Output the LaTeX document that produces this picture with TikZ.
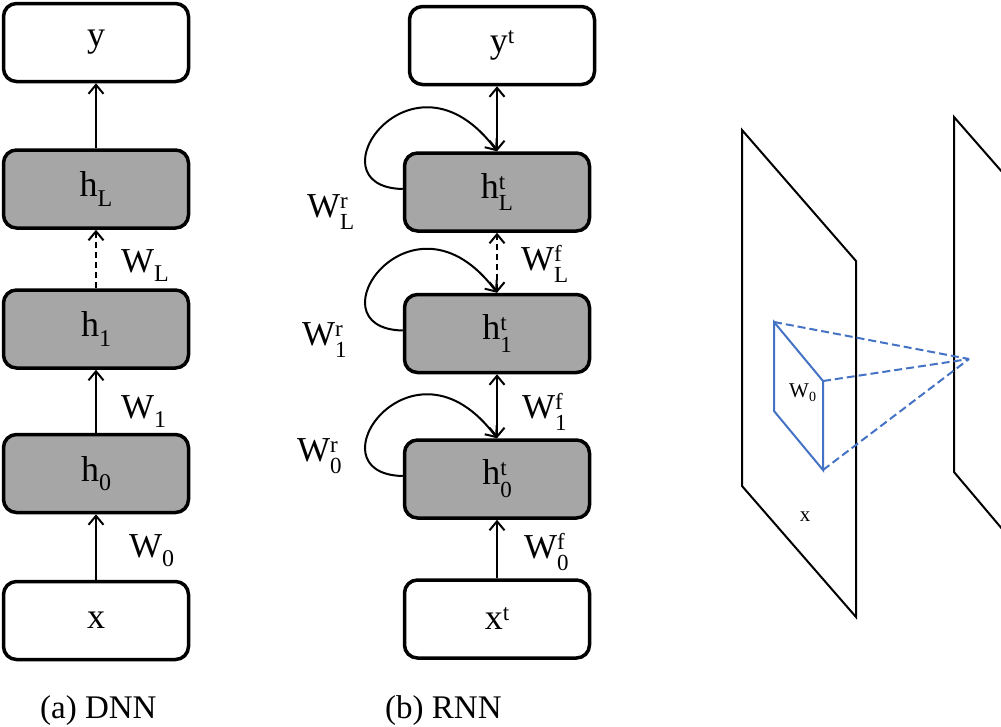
\documentclass[tikz,border=0pt]{standalone}
\usepackage{fontspec}
\setmainfont{Liberation Serif}
\usetikzlibrary{arrows.meta}
\definecolor{boxgray}{RGB}{166,166,166}
\definecolor{convblue}{RGB}{68,114,196}
\newcommand\hi[1]{\raisebox{0.25em}{\fontsize{23}{23}\selectfont #1}}
\newcommand\lo[1]{\raisebox{-0.27em}{\fontsize{24}{24}\selectfont #1}}
\newcommand\loo[1]{\raisebox{-0.36em}{\fontsize{23}{23}\selectfont #1}}
\newcommand\hilo[2]{\rlap{\hi{#1}}\loo{#2}}
\begin{document}
\begin{tikzpicture}[x=1pt,y=-1pt,
  box/.style={draw, line width=3.5pt, rounded corners=13pt, minimum width=185pt,
    minimum height=78pt, inner sep=0pt, font=\fontsize{36}{40}\selectfont},
  hid/.style={box, fill=boxgray},
  inp/.style={box, fill=white},
  arr/.style={line width=2pt, -{Straight Barb[length=9pt,width=15pt]}},
  darr/.style={line width=2pt, {Straight Barb[length=9pt,width=15pt]}-{Straight Barb[length=9pt,width=15pt]}},
  dsh/.style={dash pattern=on 6pt off 4pt},
  lbl/.style={inner sep=0pt, anchor=base west, font=\fontsize{35}{38}\selectfont},
  captext/.style={inner sep=0pt, anchor=base west, font=\fontsize{33}{36}\selectfont},
  plane/.style={line width=2pt, line join=miter},
  prism/.style={line width=2pt, draw=convblue},
  ray/.style={line width=2pt, draw=convblue, dash pattern=on 8pt off 4pt}
]
\useasboundingbox (0,0) rectangle (1001,726);

% ---------- (a) DNN ----------
\node[inp] (y)  at (96,42.5)  {y};
\node[hid] (hL) at (96,189)   {h\lo{L}};
\node[hid] (h1) at (96,329)   {h\lo{1}};
\node[hid] (h0) at (96,473.5) {h\lo{0}};
\node[inp] (x)  at (96,620.5) {x};
\draw[arr] (hL.north) -- (y.south);
\draw[arr,dsh] (h1.north) -- (hL.south);
\draw[arr] (h0.north) -- (h1.south);
\draw[arr] (x.north) -- (h0.south);
\node[lbl] (wL) at (121,272) {W\lo{L}};
\node[lbl] (w1) at (121,418) {W\lo{1}};
\node[lbl] (w0) at (129,557) {W\lo{0}};
\node[captext] (capa) at (40,718) {(a) DNN};

% ---------- (b) RNN ----------
\node[inp] (yt)  at (502,45.5) {y\hi{t}};
\node[hid] (hLt) at (497,192)  {h\hilo{t}{L}};
\node[hid] (h1t) at (497,333.5){h\hilo{t}{1}};
\node[hid] (h0t) at (497,479)  {h\hilo{t}{0}};
\node[inp] (xt)  at (497,619)  {x\hi{t}};
\draw[darr] (hLt.north) -- (hLt.north |- yt.south);
\draw[darr,dsh] (h1t.north) -- (hLt.south);
\draw[darr] (h0t.north) -- (h1t.south);
\draw[arr] (xt.north) -- (h0t.south);
\foreach \b in {hLt,h1t,h0t}{
  \draw[arr] ([yshift=3pt]\b.west) .. controls +(-95,-2) and +(-85,-115) .. (\b.north);
}
\node[lbl] (wLr) at (307,217) {W\hilo{r}{L}};
\node[lbl] (wLf) at (521,270) {W\hilo{f}{L}};
\node[lbl] (w1r) at (302,345) {W\hilo{r}{1}};
\node[lbl] (w1f) at (522,418) {W\hilo{f}{1}};
\node[lbl] (w0r) at (297,461) {W\hilo{r}{0}};
\node[lbl] (w0f) at (524,558) {W\hilo{f}{0}};
\node[captext] (capb) at (385,718) {(b) RNN};

% ---------- convolution sketch ----------
\draw[plane] (742,130) -- (742,486) -- (856,617) -- (856,261) -- cycle;
\draw[plane] (1003,173) -- (954,117) -- (954,472) -- (1003,530);
\coordinate (A) at (774,322);
\coordinate (B) at (823,381);
\coordinate (C) at (823,470);
\coordinate (D) at (774,411);
\coordinate (P) at (969,359);
\draw[prism] (A) -- (B) -- (C) -- (D) -- cycle;
\draw[ray] (A) -- (P);
\draw[ray] (B) -- (P);
\draw[ray] (C) -- (P);
\node[inner sep=0pt, anchor=base west, font=\fontsize{21}{24}\selectfont] (w0c) at (789,397)
  {W\raisebox{-0.2em}{\fontsize{14}{14}\selectfont 0}};
\node[inner sep=0pt, font=\fontsize{21}{24}\selectfont] (xc) at (805,517) {x};
\end{tikzpicture}
\end{document}
